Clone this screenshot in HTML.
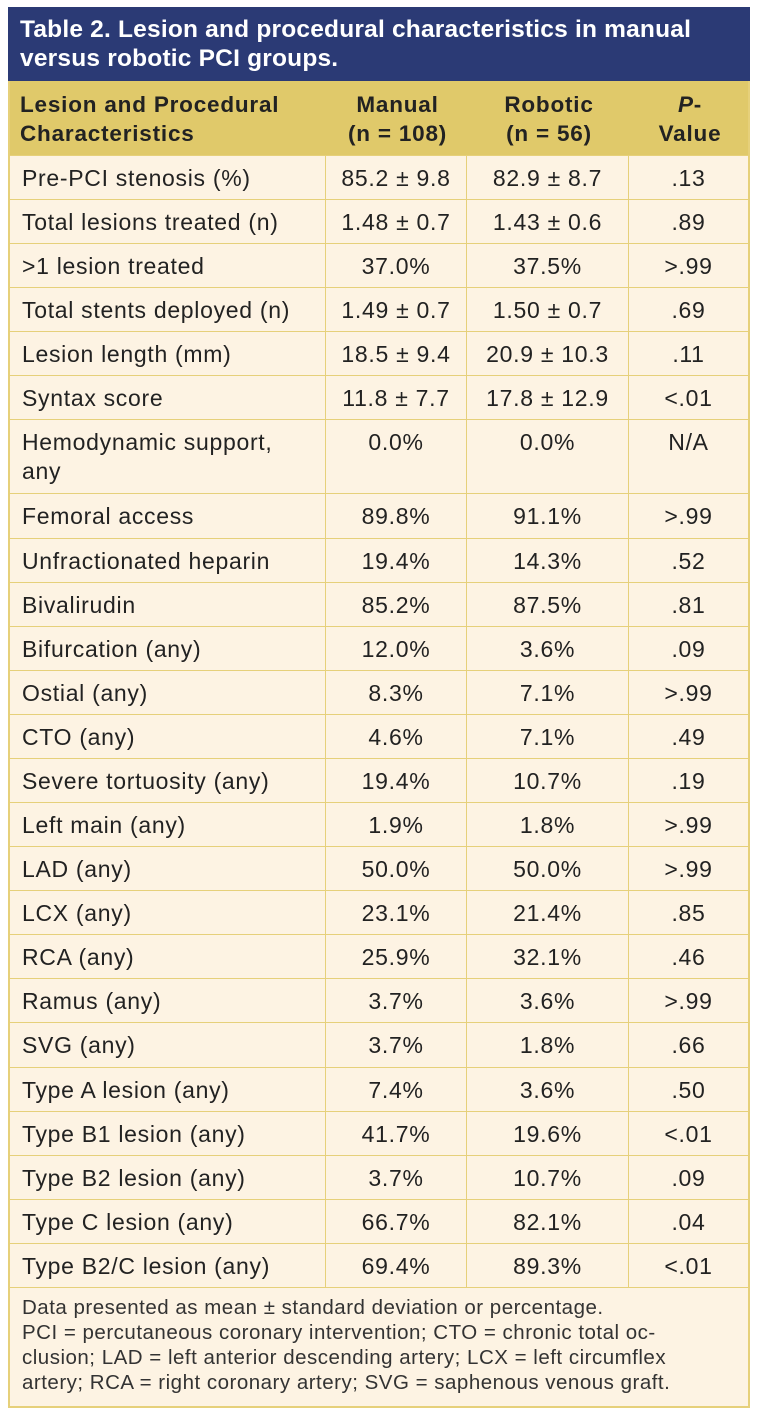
<!DOCTYPE html>
<html><head><meta charset="utf-8"><style>
body{margin:0;width:760px;height:1424px;background:#fff;font-family:"Liberation Sans",sans-serif;position:relative;overflow:hidden}
#title{position:absolute;left:8px;top:7px;width:742px;height:74px;background:#2b3a75;color:#fff;font-weight:bold;font-size:24.5px;line-height:29px;box-sizing:border-box;padding:8px 12px;letter-spacing:0.2px}
#hdr{position:absolute;left:8px;top:81px;width:742px;height:74px;background:#e0c96a;border-left:2px solid #e6d07a;border-right:2px solid #e6d07a;box-sizing:border-box}
.h{position:absolute;top:9px;font-weight:bold;font-size:22.5px;line-height:29px;color:#222;text-align:center;letter-spacing:0.8px}
.c{position:absolute;box-sizing:border-box;background:#fdf3e3;border:1px solid #e6d07a;font-size:23px;color:#222;line-height:29px;padding-top:8px;letter-spacing:0.7px;white-space:nowrap}
.l{padding-left:12px}
.m{text-align:center}
#foot{position:absolute;left:8px;width:742px;top:1287px;height:121px;background:#fdf3e3;border:2px solid #e6d07a;border-top:1px solid #e6d07a;box-sizing:border-box;padding:7px 12px;font-size:20.5px;line-height:25px;color:#333;letter-spacing:0.5px;white-space:nowrap}
</style></head><body>
<div id="title">Table 2. Lesion and procedural characteristics in manual<br>versus robotic PCI groups.</div>
<div id="hdr">
<div class="h" style="left:10px;text-align:left">Lesion and Procedural<br>Characteristics</div>
<div class="h" style="left:317px;width:141px">Manual<br>(n = 108)</div>
<div class="h" style="left:458px;width:162px">Robotic<br>(n = 56)</div>
<div class="h" style="left:620px;width:120px"><i>P</i>-<br>Value</div>
</div>
<div id="rows"></div>
<div id="foot">Data presented as mean ± standard deviation or percentage.<br>PCI = percutaneous coronary intervention; CTO = chronic total oc-<br>clusion; LAD = left anterior descending artery; LCX = left circumflex<br>artery; RCA = right coronary artery; SVG = saphenous venous graft.</div>
<script>
const labels=["Pre-PCI stenosis (%)","Total lesions treated (n)",">1 lesion treated","Total stents deployed (n)","Lesion length (mm)","Syntax score","Hemodynamic support,<br>any","Femoral access","Unfractionated heparin","Bivalirudin","Bifurcation (any)","Ostial (any)","CTO (any)","Severe tortuosity (any)","Left main (any)","LAD (any)","LCX (any)","RCA (any)","Ramus (any)","SVG (any)","Type A lesion (any)","Type B1 lesion (any)","Type B2 lesion (any)","Type C lesion (any)","Type B2/C lesion (any)"];
const manual=["85.2 ± 9.8","1.48 ± 0.7","37.0%","1.49 ± 0.7","18.5 ± 9.4","11.8 ± 7.7","0.0%","89.8%","19.4%","85.2%","12.0%","8.3%","4.6%","19.4%","1.9%","50.0%","23.1%","25.9%","3.7%","3.7%","7.4%","41.7%","3.7%","66.7%","69.4%"];
const robotic=["82.9 ± 8.7","1.43 ± 0.6","37.5%","1.50 ± 0.7","20.9 ± 10.3","17.8 ± 12.9","0.0%","91.1%","14.3%","87.5%","3.6%","7.1%","7.1%","10.7%","1.8%","50.0%","21.4%","32.1%","3.6%","1.8%","3.6%","19.6%","10.7%","82.1%","89.3%"];
const pvals=[".13",".89",">.99",".69",".11","<.01","N/A",">.99",".52",".81",".09",">.99",".49",".19",">.99",">.99",".85",".46",">.99",".66",".50","<.01",".09",".04","<.01"];
const root=document.getElementById('rows');
const xs=[8,325,466,628],ws=[318,142,163,122];
let y=155;
for(let i=0;i<labels.length;i++){
  const h=labels[i].includes('<br>')?74:44.08;
  const y0=Math.round(y),y1=Math.round(y+h);
  const vals=[labels[i],manual[i],robotic[i],pvals[i]];
  for(let j=0;j<4;j++){
    const d=document.createElement('div');
    d.className='c '+(j==0?'l':'m');
    d.style.left=xs[j]+'px';d.style.top=y0+'px';d.style.width=ws[j]+'px';d.style.height=(y1-y0+1)+'px';
    if(j==0)d.style.borderLeftWidth='2px';
    if(j==3)d.style.borderRightWidth='2px';
    d.innerHTML=vals[j];
    
    
    root.appendChild(d);
  }
  y+=h;
}
</script>
</body></html>
